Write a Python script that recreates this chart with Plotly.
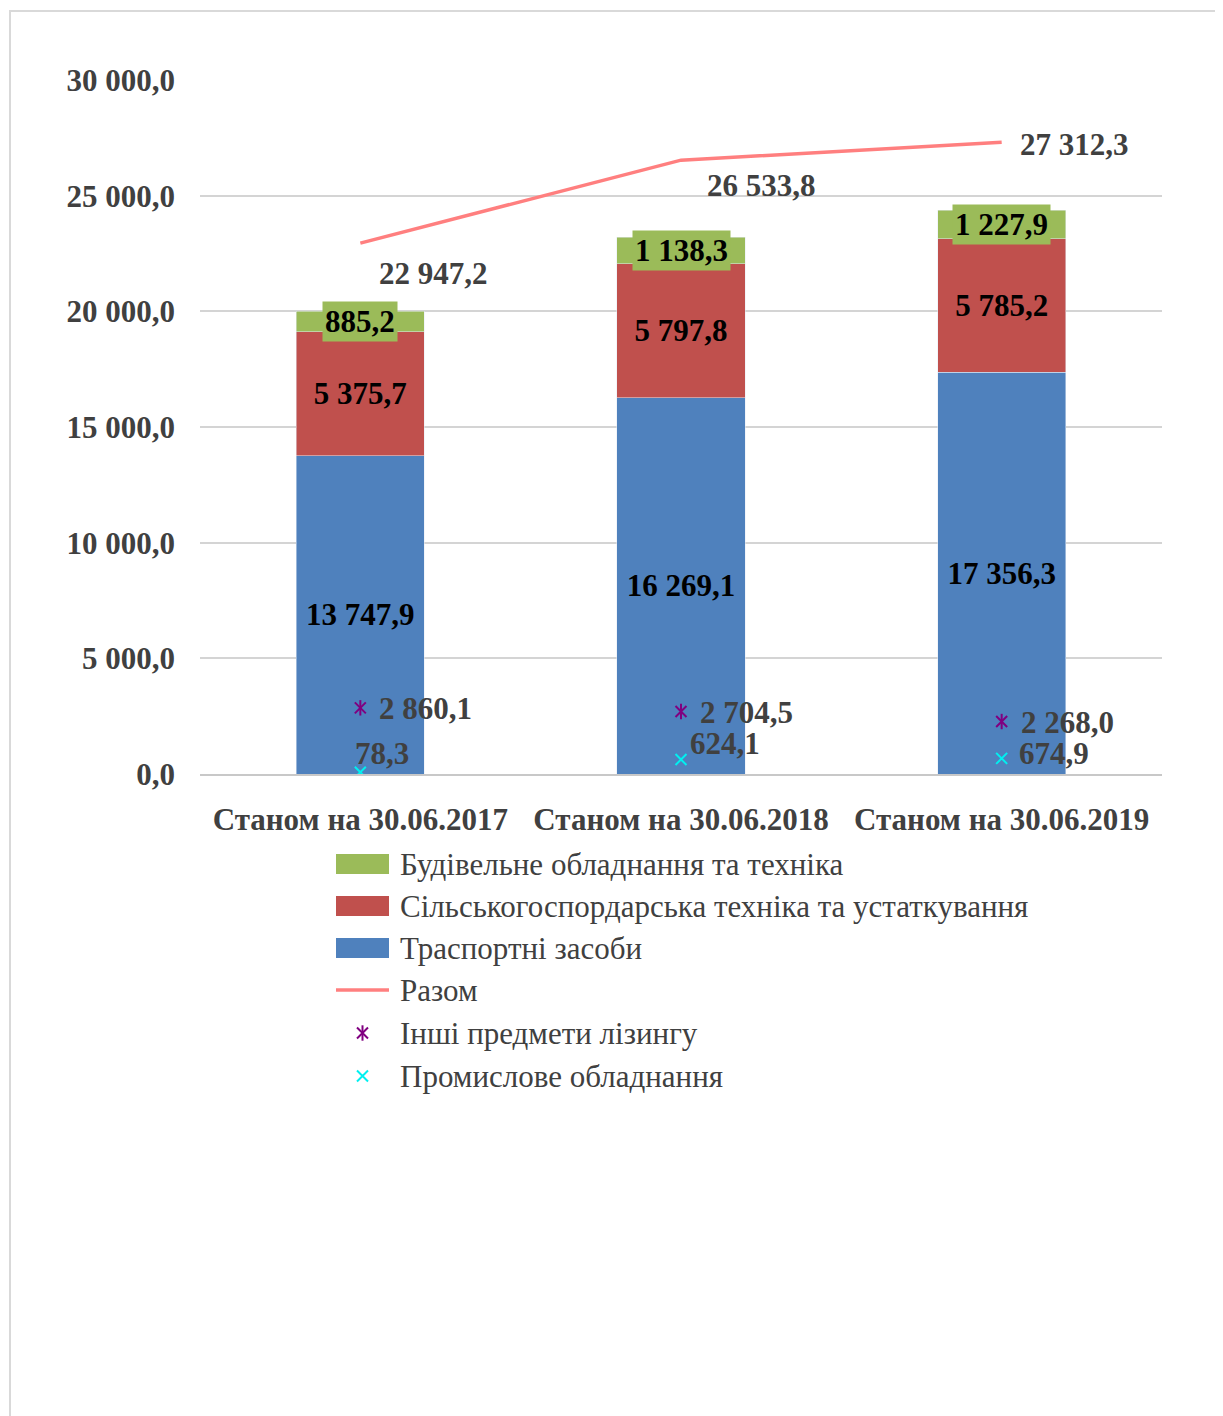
import plotly.graph_objects as go

# ---- data ----
categories = ["Станом на 30.06.2017", "Станом на 30.06.2018", "Станом на 30.06.2019"]
transport = [13747.9, 16269.1, 17356.3]
agri = [5375.7, 5797.8, 5785.2]
construction = [885.2, 1138.3, 1227.9]
total = [22947.2, 26533.8, 27312.3]
other = [2860.1, 2704.5, 2268.0]
industrial = [78.3, 624.1, 674.9]

name_construction = "Будівельне обладнання та техніка"
name_agri = "Сільськогоспордарська техніка та устаткування"
name_transport = "Траспортні засоби"
name_total = "Разом"
name_other = "Інші предмети лізингу"
name_industrial = "Промислове обладнання"

# ---- style ----
W, H = 1223, 1416
OFF = 8  # page body margin
L, R, T, B = 200 - OFF, 1162 - OFF, 80 - OFF, 774 - OFF
FONT = "Liberation Serif"
FS = 31
C_BLUE, C_RED, C_GREEN = "#4F81BD", "#C0504D", "#9BBB59"
C_LINE = "#FF7F7F"
C_PURPLE, C_CYAN = "#800080", "#00F0F0"
C_TEXT = "#404040"
C_GRID = "#D4D4D4"

total_offsets = [(73, -30), (80, -25), (73, -2)]
other_offsets = [(17, -1), (17, -1), (17, -1)]
ind_offsets = [(22, 19), (44, 16), (52, 5)]


def fmt(v):
    return "{:,.1f}".format(v).replace(",", " ").replace(".", ",")


fig = go.Figure()

bold_black = dict(family=FONT, size=FS, color="black", weight="bold")


def star_marker(symbol):
    return dict(symbol=symbol, size=11, color=C_PURPLE, line=dict(color=C_PURPLE, width=2))


cross_marker = dict(symbol="x-thin-open", size=11, color=C_CYAN, line=dict(color=C_CYAN, width=2))

fig.add_trace(go.Bar(x=categories, y=transport, name=name_transport, marker_color=C_BLUE,
                     width=0.4, text=[fmt(v) for v in transport], textposition="inside",
                     insidetextanchor="middle", textfont=bold_black, showlegend=False))
fig.add_trace(go.Bar(x=categories, y=agri, name=name_agri, marker_color=C_RED,
                     width=0.4, text=[fmt(v) for v in agri], textposition="inside",
                     insidetextanchor="middle", textfont=bold_black, showlegend=False))
fig.add_trace(go.Bar(x=categories, y=construction, name=name_construction, marker_color=C_GREEN,
                     width=0.4, textposition="none", showlegend=False))
fig.add_trace(go.Scatter(x=categories, y=total, name=name_total, mode="lines",
                         line=dict(color=C_LINE, width=3.5), showlegend=False))
# star marker = x + vertical stroke (Excel "star")
fig.add_trace(go.Scatter(x=categories, y=other, name=name_other, mode="markers",
                         marker=star_marker("x-thin-open"), showlegend=False))
fig.add_trace(go.Scatter(x=categories, y=other, name=name_other, mode="markers",
                         marker=star_marker("line-ns-open"), showlegend=False, hoverinfo="skip"))
fig.add_trace(go.Scatter(x=categories, y=industrial, name=name_industrial, mode="markers",
                         marker=cross_marker, showlegend=False))

annotations = []
# construction labels with green box
for c, t, a, g in zip(categories, transport, agri, construction):
    annotations.append(dict(x=c, y=t + a + g / 2, xref="x", yref="y", text=fmt(g), showarrow=False,
                            font=bold_black, bgcolor=C_GREEN, borderpad=2,
                            xanchor="center", yanchor="middle"))
gray_bold = dict(family=FONT, size=FS, color=C_TEXT, weight="bold")
for c, v, (dx, dy) in zip(categories, total, total_offsets):
    annotations.append(dict(x=c, y=v, xref="x", yref="y", text=fmt(v), showarrow=False,
                            font=gray_bold, xshift=dx, yshift=dy, xanchor="center", yanchor="middle"))
for c, v, (dx, dy) in zip(categories, other, other_offsets):
    annotations.append(dict(x=c, y=v, xref="x", yref="y", text=fmt(v), showarrow=False,
                            font=gray_bold, xshift=dx, yshift=dy, xanchor="left", yanchor="middle"))
for c, v, (dx, dy) in zip(categories, industrial, ind_offsets):
    annotations.append(dict(x=c, y=v, xref="x", yref="y", text=fmt(v), showarrow=False,
                            font=gray_bold, xshift=dx, yshift=dy, xanchor="center", yanchor="middle"))

# ---- custom legend (pixel coordinates on overlay axes) ----
leg_names = [name_construction, name_agri, name_transport, name_total, name_other, name_industrial]
leg_y = [v - OFF for v in [864, 906, 948, 990, 1033, 1076]]
sw_x0, sw_x1, txt_x = 336 - OFF, 389 - OFF, 398 - OFF
shapes = [dict(type="rect", xref="x2", yref="y2", x0=10 - OFF, y0=11 - OFF, x1=W + 30, y1=H + 30,
               line=dict(color="#D9D9D9", width=2), fillcolor="rgba(0,0,0,0)", layer="below")]
for col, yy in zip([C_GREEN, C_RED, C_BLUE], leg_y[:3]):
    shapes.append(dict(type="rect", xref="x2", yref="y2", x0=sw_x0, x1=sw_x1, y0=yy - 10, y1=yy + 10,
                       fillcolor=col, line=dict(width=0)))
shapes.append(dict(type="line", xref="x2", yref="y2", x0=sw_x0, x1=sw_x1, y0=leg_y[3], y1=leg_y[3],
                   line=dict(color=C_LINE, width=3.5)))
mid = (sw_x0 + sw_x1) / 2
for sym in ["x-thin-open", "line-ns-open"]:
    fig.add_trace(go.Scatter(x=[mid], y=[leg_y[4]], xaxis="x2", yaxis="y2", mode="markers",
                             marker=star_marker(sym), showlegend=False, hoverinfo="skip"))
fig.add_trace(go.Scatter(x=[mid], y=[leg_y[5]], xaxis="x2", yaxis="y2", mode="markers",
                         marker=cross_marker, showlegend=False, hoverinfo="skip"))
for nm, yy in zip(leg_names, leg_y):
    annotations.append(dict(x=txt_x, y=yy, xref="x2", yref="y2", text=nm, showarrow=False,
                            font=dict(family=FONT, size=FS, color=C_TEXT),
                            xanchor="left", yanchor="middle"))

fig.update_layout(
    width=W, height=H, autosize=False,
    margin=dict(l=0, r=0, t=0, b=0),
    paper_bgcolor="white", plot_bgcolor="rgba(0,0,0,0)",
    barmode="stack", bargap=0.6,
    separators=", ",
    font=dict(family=FONT, size=FS, color=C_TEXT),
    showlegend=False,
    xaxis=dict(domain=[L / W, R / W], anchor="y", type="category", showgrid=False,
               showline=True, linecolor="#C8C8C8", linewidth=2, ticks="",
               tickfont=dict(family=FONT, size=FS, color=C_TEXT, weight="bold"),
               ticklabelstandoff=17, automargin=False, fixedrange=True),
    yaxis=dict(domain=[1 - B / H, 1 - T / H], anchor="x", range=[0, 30000], dtick=5000,
               tickformat=",.1f", showgrid=True, gridcolor=C_GRID, gridwidth=2, zeroline=False,
               ticks="", tickfont=dict(family=FONT, size=FS, color=C_TEXT, weight="bold"),
               ticklabelstandoff=24, automargin=False, fixedrange=True),
    xaxis2=dict(domain=[0, 1], range=[0, W], anchor="y2", visible=False, fixedrange=True),
    yaxis2=dict(domain=[0, 1], range=[H, 0], anchor="x2", visible=False, fixedrange=True),
    shapes=shapes,
    annotations=annotations,
)

fig.write_html("out.html")
